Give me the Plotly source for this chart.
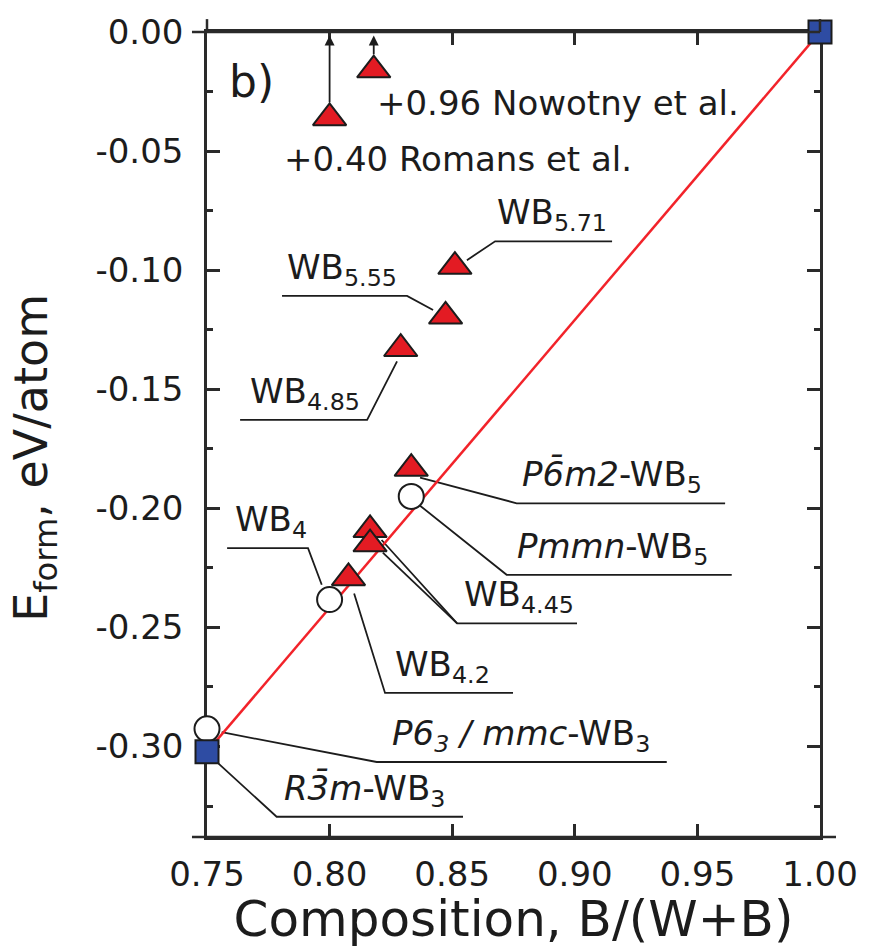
import plotly.graph_objects as go

FONT = "DejaVu Sans"
INK = "#1c1c1c"
AXIS = "#2a2a2a"
RED = "#e31b23"
BLUE = "#2e4ca3"

# convex hull of the W-B system (eV/atom vs. B/(W+B))
hull_x = [0.75, 1.00]
hull_y = [-0.3022, 0.0]

# hull vertices: R-3m WB3 and boron
ref_x = [0.75, 1.00]
ref_y = [-0.3022, 0.0]

# ordered structures: P63/mmc-WB3, WB4, Pmmn-WB5
ord_x = [0.75, 0.80, 0.8333]
ord_y = [-0.2926, -0.2383, -0.1950]

# disordered models: WB4.2, WB4.45 (two), P-6m2-WB5, WB4.85, WB5.55, WB5.71
tri_x = [0.8077, 0.8165, 0.8165, 0.8333, 0.8290, 0.8473, 0.8511]
tri_y = [-0.2292, -0.2090, -0.2150, -0.1833, -0.1330, -0.1194, -0.0985]

# experimental structure models, off scale
exp_x = [0.80, 0.818]
exp_y = [-0.0361, -0.0160]
exp_text = ["+0.40 Romans et al.", "+0.96 Nowotny et al."]
exp_label_x = [0.7805, 0.8185]
exp_label_y = [-0.0587, -0.0354]

x_tick_vals = [0.75, 0.80, 0.85, 0.90, 0.95, 1.00]
x_tick_text = ["0.75", "0.80", "0.85", "0.90", "0.95", "1.00"]
y_tick_vals = [0.0, -0.05, -0.10, -0.15, -0.20, -0.25, -0.30]
y_tick_text = ["0.00", "-0.05", "-0.10", "-0.15", "-0.20", "-0.25", "-0.30"]
y_minor_vals = [-0.025, -0.075, -0.125, -0.175, -0.225, -0.275, -0.325]

# phase labels: text, left edge, underline level, leader polylines
labels = [
    ("WB<sub>5.71</sub>", 0.8675, -0.0879,
     [[(0.8560, -0.0958), (0.8675, -0.0879), (0.9152, -0.0879)]]),
    ("WB<sub>5.55</sub>", 0.7818, -0.1108,
     [[(0.8422, -0.1167), (0.8316, -0.1108), (0.7806, -0.1108)]]),
    ("WB<sub>4.85</sub>", 0.7667, -0.1629,
     [[(0.8275, -0.1383), (0.8153, -0.1629), (0.7635, -0.1629)]]),
    ("WB<sub>4</sub>", 0.7606, -0.2167,
     [[(0.7968, -0.2321), (0.7912, -0.2167), (0.7582, -0.2167)]]),
    ("WB<sub>4.2</sub>", 0.8259, -0.2775,
     [[(0.8100, -0.2358), (0.8226, -0.2775), (0.8748, -0.2775)]]),
    ("WB<sub>4.45</sub>", 0.8540, -0.2483,
     [[(0.8212, -0.2133), (0.8520, -0.2483), (0.9009, -0.2483)],
      [(0.8217, -0.2186), (0.8520, -0.2483)]]),
    ("<i>P6\u0304m2</i>-WB<sub>5</sub>", 0.8777, -0.1979,
     [[(0.8369, -0.1871), (0.8763, -0.1979), (0.9613, -0.1979)]]),
    ("<i>Pmmn</i>-WB<sub>5</sub>", 0.8756, -0.2279,
     [[(0.8369, -0.1989), (0.8722, -0.2279), (0.9640, -0.2279)]]),
    ("<i>P6<sub>3</sub> / mmc</i>-WB<sub>3</sub>", 0.8246, -0.3065,
     [[(0.7560, -0.2940), (0.8192, -0.3065), (0.9375, -0.3065)]]),
    ("<i>R3\u0304m</i>-WB<sub>3</sub>", 0.7806, -0.3295,
     [[(0.7545, -0.3070), (0.7784, -0.3295), (0.8544, -0.3295)]]),
]

fig = go.Figure()

fig.add_trace(go.Scatter(x=hull_x, y=hull_y, mode="lines",
                         line=dict(color="#f2232a", width=2.5), hoverinfo="skip"))
fig.add_trace(go.Scatter(x=ord_x, y=ord_y, mode="markers", cliponaxis=False,
                         marker=dict(symbol="circle", size=25, color="white",
                                     line=dict(color=INK, width=2))))
fig.add_trace(go.Scatter(x=tri_x + exp_x, y=tri_y + exp_y, mode="markers", cliponaxis=False,
                         marker=dict(symbol="triangle-up", size=29, color=RED,
                                     line=dict(color=INK, width=2))))
fig.add_trace(go.Scatter(x=ref_x, y=ref_y, mode="markers", cliponaxis=False,
                         marker=dict(symbol="square", size=23, color=BLUE,
                                     line=dict(color=INK, width=2))))

# leader lines and underlines
shapes = []
for _, _, _, paths in labels:
    for pts in paths:
        d = "M " + " L ".join(f"{px},{py}" for px, py in pts)
        shapes.append(dict(type="path", path=d, xref="x", yref="y", layer="below",
                           line=dict(color=INK, width=1.8)))

# frame overshoot at the corners
ext = dict(xref="paper", yref="paper", type="line", line=dict(color=AXIS, width=2.5))
shapes += [
    dict(x0=-0.0245, x1=1.0261, y0=0, y1=0, **ext),
    dict(x0=-0.0245, x1=1.0, y0=1, y1=1, **ext),
    dict(x0=0, x1=0, y0=1, y1=1.016, **ext),
    dict(x0=1, x1=1, y0=1, y1=1.016, **ext),
]

annotations = []
for text, lx, ly, _ in labels:
    annotations.append(dict(x=lx, y=ly, xref="x", yref="y", text=text, showarrow=False,
                            xanchor="left", yanchor="bottom", yshift=2,
                            font=dict(family=FONT, size=34, color=INK)))

# upward arrows for the off-scale experimental models
for xv, yv in zip(exp_x, exp_y):
    annotations.append(dict(x=xv, y=-0.0015, ax=xv, ay=yv + 0.006, xref="x", yref="y",
                            axref="x", ayref="y", text="", showarrow=True, arrowhead=2,
                            arrowsize=1.1, arrowwidth=1.8, arrowcolor=INK, standoff=0))
for t, lx, ly in zip(exp_text, exp_label_x, exp_label_y):
    annotations.append(dict(x=lx, y=ly, xref="x", yref="y", text=t, showarrow=False,
                            xanchor="left", yanchor="bottom", yshift=-9,
                            font=dict(family=FONT, size=34, color=INK)))

annotations.append(dict(x=0.758, y=-0.0275, xref="x", yref="y", text="b)", showarrow=False,
                        xanchor="left", yanchor="bottom", yshift=-11,
                        font=dict(family=FONT, size=44, color=INK)))

# y-axis title
annotations.append(dict(x=(35 - 207) / 613, y=(837 - 455) / 811, xref="paper", yref="paper",
                        text="E<sub>form</sub>, eV/atom", textangle=-90, showarrow=False,
                        xanchor="center", yanchor="middle",
                        font=dict(family=FONT, size=46, color=INK)))

fig.update_layout(
    width=882, height=948,
    margin=dict(l=207, r=62, t=26, b=111, pad=0),
    plot_bgcolor="white", paper_bgcolor="white",
    showlegend=False,
    font=dict(family=FONT, color=INK, size=34),
    shapes=shapes, annotations=annotations,
    xaxis=dict(range=[0.75, 1.0], tickvals=x_tick_vals, ticktext=x_tick_text,
               ticks="inside", ticklen=13, tickwidth=2.5, tickcolor=AXIS,
               showline=True, linewidth=2.5, linecolor=AXIS, mirror="ticks",
               showgrid=False, zeroline=False, layer="below traces",
               ticklabelstandoff=5,
               tickfont=dict(family=FONT, size=34, color=INK),
               title=dict(text="Composition, B/(W+B)", standoff=4,
                          font=dict(family=FONT, size=50, color=INK))),
    yaxis=dict(range=[-0.338, 0.0], tickvals=y_tick_vals, ticktext=y_tick_text,
               ticks="inside", ticklen=13, tickwidth=2.5, tickcolor=AXIS,
               minor=dict(tickvals=y_minor_vals, ticks="inside", ticklen=6,
                          tickwidth=2.5, tickcolor=AXIS),
               showline=True, linewidth=2.5, linecolor=AXIS, mirror="ticks",
               showgrid=False, zeroline=False, layer="below traces",
               ticklabelstandoff=14,
               tickfont=dict(family=FONT, size=34, color=INK)),
)

fig.write_html("out.html")
